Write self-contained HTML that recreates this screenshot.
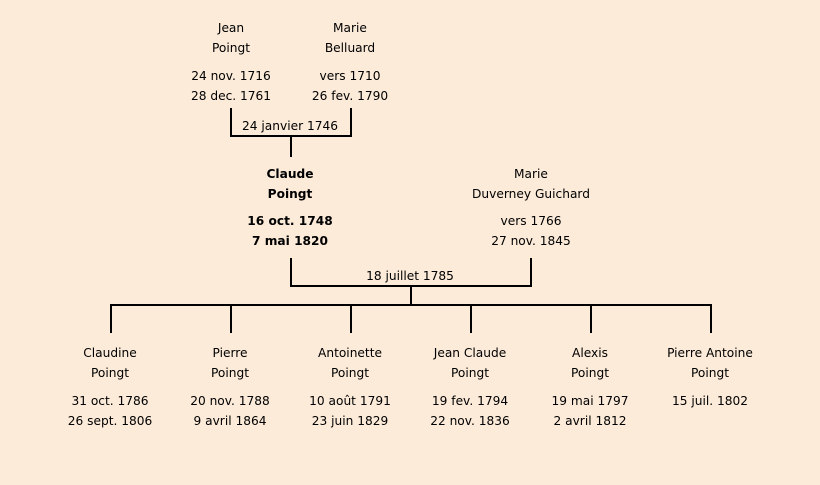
<!DOCTYPE html>
<html><head><style>
html,body{margin:0;padding:0;background:#fcebd9;}
svg{display:block;}
text{font-family:"Comic Sans MS","DejaVu Sans","Liberation Sans",sans-serif;font-size:12.2px;fill:#000;text-anchor:middle;}
.b{font-weight:bold;}
</style></head><body>
<svg width="820" height="485" xmlns="http://www.w3.org/2000/svg">
<rect width="820" height="485" fill="#fcebd9"/>
<g stroke="#000" stroke-width="2" fill="none">
<path d="M231 108V136H351V108M291 136V157"/>
<path d="M291 258V286H531V258M411 286V305"/>
<path d="M111 333V305H711V333M231 305V333M351 305V333M471 305V333M591 305V333"/>
</g>
<text x="231" y="32">Jean</text><text x="231" y="52">Poingt</text>
<text x="231" y="80">24 nov. 1716</text><text x="231" y="100">28 dec. 1761</text>
<text x="350" y="32">Marie</text><text x="350" y="52">Belluard</text>
<text x="350" y="80">vers 1710</text><text x="350" y="100">26 fev. 1790</text>
<text x="290" y="130">24 janvier 1746</text>
<text class="b" x="290" y="178">Claude</text><text class="b" x="290" y="198">Poingt</text>
<text class="b" x="290" y="225">16 oct. 1748</text><text class="b" x="290" y="245">7 mai 1820</text>
<text x="531" y="178">Marie</text><text x="531" y="198">Duverney Guichard</text>
<text x="531" y="225">vers 1766</text><text x="531" y="245">27 nov. 1845</text>
<text x="410" y="280">18 juillet 1785</text>
<text x="110" y="357">Claudine</text><text x="110" y="377">Poingt</text>
<text x="110" y="405">31 oct. 1786</text><text x="110" y="425">26 sept. 1806</text>
<text x="230" y="357">Pierre</text><text x="230" y="377">Poingt</text>
<text x="230" y="405">20 nov. 1788</text><text x="230" y="425">9 avril 1864</text>
<text x="350" y="357">Antoinette</text><text x="350" y="377">Poingt</text>
<text x="350" y="405">10 août 1791</text><text x="350" y="425">23 juin 1829</text>
<text x="470" y="357">Jean Claude</text><text x="470" y="377">Poingt</text>
<text x="470" y="405">19 fev. 1794</text><text x="470" y="425">22 nov. 1836</text>
<text x="590" y="357">Alexis</text><text x="590" y="377">Poingt</text>
<text x="590" y="405">19 mai 1797</text><text x="590" y="425">2 avril 1812</text>
<text x="710" y="357">Pierre Antoine</text><text x="710" y="377">Poingt</text>
<text x="710" y="405">15 juil. 1802</text>
</svg>
</body></html>
